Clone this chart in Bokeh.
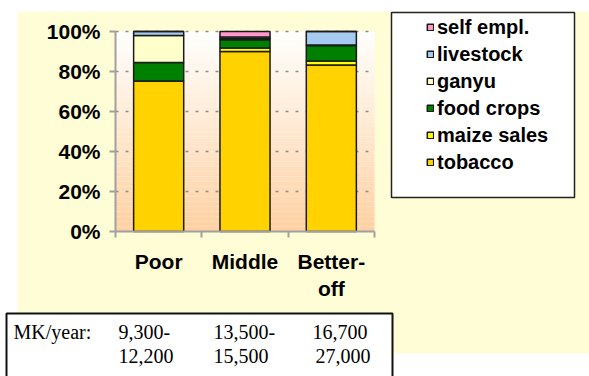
import numpy as np
from bokeh.plotting import figure
from bokeh.models import (Range1d, FixedTicker, PrintfTickFormatter, Label, Legend, LegendItem)
from bokeh.embed import file_html
from bokeh.resources import INLINE

# ---------------- data ----------------
groups = ["Poor", "Middle", "Better-\noff"]
series_names = ["tobacco", "maize sales", "food crops", "ganyu", "livestock", "self empl."]
tobacco = [75.3, 90.0, 83.2]
maize_sales = [0.0, 1.7, 2.0]
food_crops = [9.2, 4.2, 7.8]
ganyu = [13.5, 0.5, 0.2]
livestock = [2.0, 0.8, 6.8]
self_empl = [0.0, 2.8, 0.0]
y_ticks = [0, 20, 40, 60, 80, 100]
income_title = "MK/year:"
income_low = ["9,300-", "13,500-", "16,700"]
income_high = ["12,200", "15,500", "27,000"]

colors = ["#FFD200", "#FFFF00", "#008000", "#FFFFCC", "#A6CAF0", "#FF99CC"]

# ---------------- layout (pixels) ----------------
W, H = 589, 376
FL, FR, FT, FB = 115, 374, 31, 231   # plot area inside the canvas
NX = len(groups)
YMAX = 100.0


def px2x(px):
    return (px - FL) / (FR - FL) * NX


def py2y(py):
    return (FB - py) / (FB - FT) * YMAX


# the frame covers the whole canvas; the chart lives in the region FL..FR x FT..FB
p = figure(width=W, height=H, output_backend="svg", toolbar_location=None, title=None,
           x_range=Range1d(px2x(0), px2x(W)), y_range=Range1d(py2y(H), py2y(0)),
           min_border=0)
p.border_fill_color = "white"
p.background_fill_color = "white"
p.outline_line_color = None
p.xgrid.visible = False
p.ygrid.visible = False

# pale yellow slide background
p.quad(left=px2x(17), right=px2x(W + 5), top=py2y(11), bottom=py2y(353),
       fill_color="#FFFDD6", line_color=None)

# gradient plot area (decoration)
n = 80
edges = np.linspace(0, YMAX, n + 1)
top_c = np.array([255, 255, 255])
bot_c = np.array([255, 208, 162])
grad_cols = []
for i in range(n):
    t = (edges[i] + edges[i + 1]) / (2 * YMAX)
    c = bot_c + (top_c - bot_c) * t
    grad_cols.append("#%02x%02x%02x" % tuple(int(round(v)) for v in c))
p.quad(left=0, right=NX, bottom=edges[:-1], top=edges[1:], fill_color=grad_cols,
       line_color=None)

# dotted gridlines
gy = y_ticks[1:]
p.segment(x0=[0] * len(gy), x1=[NX] * len(gy), y0=gy, y1=gy,
          line_color="#8c8c8c", line_dash="3 7", line_width=1.5)

# legend frame
p.quad(left=px2x(391), right=px2x(574), top=py2y(12), bottom=py2y(197),
       fill_color="white", line_color="#222222", line_width=1.5)

# income table frame
p.quad(left=px2x(6), right=px2x(392), top=py2y(313), bottom=py2y(H + 20),
       fill_color="white", line_color="#111111", line_width=2)

# stacked bars
xs = [i + 0.5 for i in range(NX)]
data = {"x": xs, "tobacco": tobacco, "maize sales": maize_sales, "food crops": food_crops,
        "ganyu": ganyu, "livestock": livestock, "self empl.": self_empl}
rs = p.vbar_stack(series_names, x="x", width=0.58, color=colors, source=data,
                  line_color="#1a1a1a", line_width=1.5)

# axes drawn at fixed data locations
xa = p.xaxis[0]
ya = p.yaxis[0]
xa.fixed_location = 0
ya.fixed_location = 0
xa.bounds = (0, NX)
ya.bounds = (0, YMAX)

xa.ticker = FixedTicker(ticks=xs, minor_ticks=list(range(NX + 1)))
xa.major_label_overrides = {x: g for x, g in zip(xs, groups)}
xa.major_tick_line_color = None
xa.major_tick_out = 0
xa.major_tick_in = 0
xa.minor_tick_out = 6
xa.minor_tick_in = 0
xa.minor_tick_line_color = "#A0A0A0"
xa.minor_tick_line_width = 2
xa.major_label_standoff = 12

ya.ticker = FixedTicker(ticks=y_ticks)
ya.formatter = PrintfTickFormatter(format="%d%%")
ya.major_tick_out = 6
ya.major_tick_in = 0
ya.minor_tick_line_color = None
ya.major_tick_line_color = "#A0A0A0"
ya.major_tick_line_width = 2
ya.major_label_standoff = 9

for ax in (xa, ya):
    ax.axis_line_color = "#A0A0A0"
    ax.axis_line_width = 2
    ax.major_label_text_font = "Liberation Sans"
    ax.major_label_text_font_style = "bold"
    ax.major_label_text_font_size = "21px"
    ax.major_label_text_color = "black"

# legend (top entry first)
items = [LegendItem(label=name, renderers=[r]) for name, r in zip(series_names, rs)][::-1]
legend = Legend(items=items, location=(426, H - 175.5), padding=0, margin=0,
                glyph_width=8, glyph_height=8, label_standoff=3, label_height=27,
                spacing=0, border_line_color=None, background_fill_alpha=0,
                label_text_font="Liberation Sans", label_text_font_style="bold",
                label_text_font_size="20px", label_text_color="black")
p.add_layout(legend)

# income table texts
serif = dict(text_font="Liberation Serif", text_font_size="20px", text_color="black",
             text_baseline="middle", text_align="left")
p.add_layout(Label(x=px2x(13), y=py2y(331), text=income_title, **serif))
for lo, hi, x1, x2 in zip(income_low, income_high, [118, 213, 312], [118, 213, 315]):
    p.add_layout(Label(x=px2x(x1), y=py2y(331), text=lo, **serif))
    p.add_layout(Label(x=px2x(x2), y=py2y(355), text=hi, **serif))

open("out.html", "w").write(file_html(p, INLINE))
